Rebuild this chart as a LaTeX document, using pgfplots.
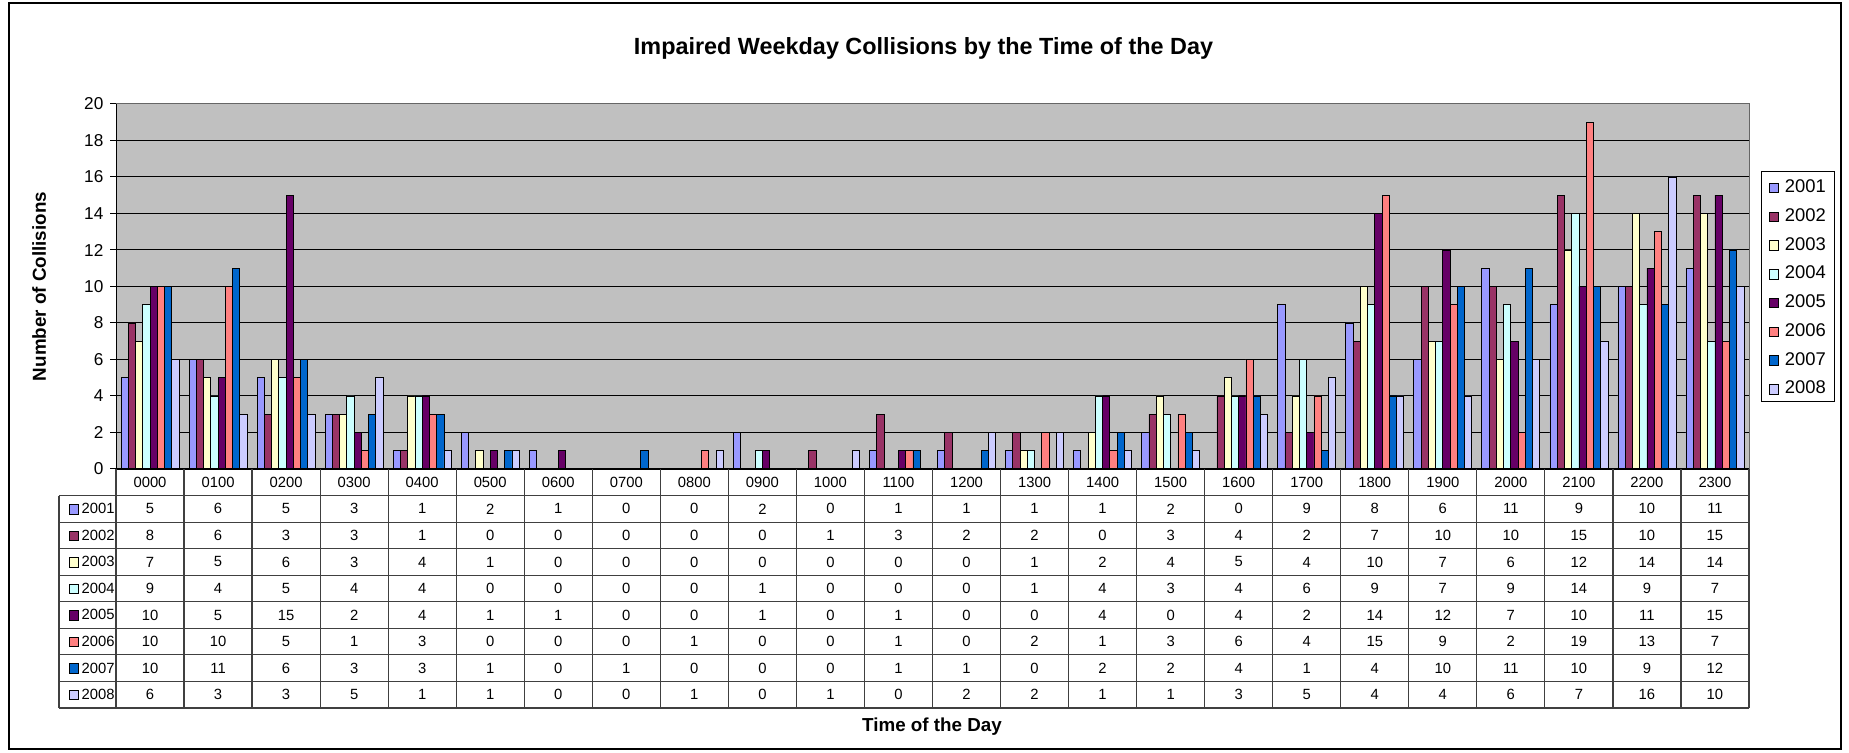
\documentclass[border=0pt]{standalone}
\usepackage{fontspec}
\setmainfont{Liberation Sans}
\usepackage{pgfplots}
\usepackage{pgfplotstable}
\pgfplotsset{compat=1.18}

\definecolor{cA}{HTML}{9999FF}
\definecolor{cB}{HTML}{993366}
\definecolor{cC}{HTML}{FFFFCC}
\definecolor{cD}{HTML}{CCFFFF}
\definecolor{cE}{HTML}{660066}
\definecolor{cF}{HTML}{FF8080}
\definecolor{cG}{HTML}{0066CC}
\definecolor{cH}{HTML}{CCCCFF}
\definecolor{plotgrey}{HTML}{C0C0C0}

\newcommand{\tabfont}{\fontsize{7.4}{9}\selectfont}
\newcommand{\keybox}[1]{{\setlength{\fboxsep}{0pt}\setlength{\fboxrule}{0.4pt}%
  \raisebox{0.1pt}{\fcolorbox{black}{#1}{\rule{0pt}{4.3pt}\rule{4.3pt}{0pt}}}}}

% hour of day, one column per year
\pgfplotstableread{
hour y2001 y2002 y2003 y2004 y2005 y2006 y2007 y2008
0000 5 8 7 9 10 10 10 6
0100 6 6 5 4 5 10 11 3
0200 5 3 6 5 15 5 6 3
0300 3 3 3 4 2 1 3 5
0400 1 1 4 4 4 3 3 1
0500 2 0 1 0 1 0 1 1
0600 1 0 0 0 1 0 0 0
0700 0 0 0 0 0 0 1 0
0800 0 0 0 0 0 1 0 1
0900 2 0 0 1 1 0 0 0
1000 0 1 0 0 0 0 0 1
1100 1 3 0 0 1 1 1 0
1200 1 2 0 0 0 0 1 2
1300 1 2 1 1 0 2 0 2
1400 1 0 2 4 4 1 2 1
1500 2 3 4 3 0 3 2 1
1600 0 4 5 4 4 6 4 3
1700 9 2 4 6 2 4 1 5
1800 8 7 10 9 14 15 4 4
1900 6 10 7 7 12 9 10 4
2000 11 10 6 9 7 2 11 6
2100 9 15 12 14 10 19 10 7
2200 10 10 14 9 11 13 9 16
2300 11 15 14 7 15 7 12 10
}\hours

\pgfplotsset{
  bars/.style={fill=#1, draw=black, line width=0.4pt},
  cells/.style={draw=none, mark=none, nodes near coords, point meta=explicit symbolic,
    nodes near coords style={anchor=center, font=\tabfont, inner sep=0pt}},
}

\begin{document}
\begin{tikzpicture}
\path (0pt,0pt) rectangle (924.5pt,-376.5pt);
\draw[line width=0.6pt] (4.5pt,-1.5pt) rectangle (920.5pt,-374.5pt);
\node[anchor=base, font=\fontsize{11.7}{14}\selectfont\bfseries] at (461.75pt,-27.5pt)
  {Impaired Weekday Collisions by the Time of the Day};

\begin{axis}[
    at={(58pt,-234.5pt)}, anchor=south west, scale only axis,
    width=816.5pt, height=182.5pt,
    ybar=0pt, bar width=3.625pt,
    xmin=-0.5, xmax=23.5, ymin=0, ymax=20,
    xtick=\empty, ytick={0,2,...,20}, ytick pos=left,
    tick align=outside, major tick length=2.8pt, tick style={black, line width=0.5pt},
    axis background/.style={fill=plotgrey},
    axis line style={draw=gray!80!black, line width=0.5pt},
    ymajorgrids, grid style={black, line width=0.5pt},
    /pgf/number format/assume math mode=true,
    yticklabel style={font=\fontsize{8.6}{10}\selectfont},
    ylabel={Number of Collisions},
    ylabel style={at={(axis description cs:-0.047,0.5)}, anchor=center,
      font=\fontsize{9.4}{11}\selectfont\bfseries},
  ]
  \addplot[bars=cA] table[x expr=\coordindex, y=y2001] \hours;
  \addplot[bars=cB] table[x expr=\coordindex, y=y2002] \hours;
  \addplot[bars=cC] table[x expr=\coordindex, y=y2003] \hours;
  \addplot[bars=cD] table[x expr=\coordindex, y=y2004] \hours;
  \addplot[bars=cE] table[x expr=\coordindex, y=y2005] \hours;
  \addplot[bars=cF] table[x expr=\coordindex, y=y2006] \hours;
  \addplot[bars=cG] table[x expr=\coordindex, y=y2007] \hours;
  \addplot[bars=cH] table[x expr=\coordindex, y=y2008] \hours;
  \draw[black, line width=0.6pt] (rel axis cs:0,0) -- (rel axis cs:0,1);
\end{axis}

% legend box at the right
\draw[black, line width=0.5pt, fill=white] (880.5pt,-86pt) rectangle (917pt,-201pt);
\foreach \c/\yr [count=\i from 0] in {cA/2001,cB/2002,cC/2003,cD/2004,cE/2005,cF/2006,cG/2007,cH/2008}
  \node[anchor=west, inner sep=0pt, font=\fontsize{9.2}{11}\selectfont]
    at (884.3pt,{-93.2pt-14.375pt*\i}) {\keybox{\c}\hspace{2.8pt}\yr};

% data table under the plot
\begin{axis}[
    at={(29.49pt,-354pt)}, anchor=south west, scale only axis,
    width=845pt, height=119.5pt,
    xmin=-1.338, xmax=23.5, ymin=0, ymax=9,
    hide axis, clip=false,
  ]
  \pgfplotsinvokeforeach{0,1,...,8}{
    \draw[black!75, line width=0.6pt] (axis cs:-1.338,#1) -- (axis cs:23.5,#1);}
  \draw[black, line width=0.7pt] (axis cs:-0.5,9) -- (axis cs:23.5,9);
  \pgfplotsinvokeforeach{-0.5,0.5,...,23.5}{
    \draw[black!75, line width=0.6pt] (axis cs:#1,0) -- (axis cs:#1,9);}
  \draw[black!75, line width=0.6pt] (axis cs:-1.338,0) -- (axis cs:-1.338,8);
  \addplot[cells] table[x expr=\coordindex, y expr=8.5, meta=hour] \hours;
  \addplot[cells] table[x expr=\coordindex, y expr=7.5, meta=y2001] \hours;
  \addplot[cells] table[x expr=\coordindex, y expr=6.5, meta=y2002] \hours;
  \addplot[cells] table[x expr=\coordindex, y expr=5.5, meta=y2003] \hours;
  \addplot[cells] table[x expr=\coordindex, y expr=4.5, meta=y2004] \hours;
  \addplot[cells] table[x expr=\coordindex, y expr=3.5, meta=y2005] \hours;
  \addplot[cells] table[x expr=\coordindex, y expr=2.5, meta=y2006] \hours;
  \addplot[cells] table[x expr=\coordindex, y expr=1.5, meta=y2007] \hours;
  \addplot[cells] table[x expr=\coordindex, y expr=0.5, meta=y2008] \hours;
  \node[anchor=west, font=\tabfont, xshift=1.5pt] at (axis cs:-1.338,7.5) {\keybox{cA}\,2001};
  \node[anchor=west, font=\tabfont, xshift=1.5pt] at (axis cs:-1.338,6.5) {\keybox{cB}\,2002};
  \node[anchor=west, font=\tabfont, xshift=1.5pt] at (axis cs:-1.338,5.5) {\keybox{cC}\,2003};
  \node[anchor=west, font=\tabfont, xshift=1.5pt] at (axis cs:-1.338,4.5) {\keybox{cD}\,2004};
  \node[anchor=west, font=\tabfont, xshift=1.5pt] at (axis cs:-1.338,3.5) {\keybox{cE}\,2005};
  \node[anchor=west, font=\tabfont, xshift=1.5pt] at (axis cs:-1.338,2.5) {\keybox{cF}\,2006};
  \node[anchor=west, font=\tabfont, xshift=1.5pt] at (axis cs:-1.338,1.5) {\keybox{cG}\,2007};
  \node[anchor=west, font=\tabfont, xshift=1.5pt] at (axis cs:-1.338,0.5) {\keybox{cH}\,2008};
\end{axis}

\node[anchor=base, font=\fontsize{9.4}{11}\selectfont\bfseries] at (466pt,-366pt) {Time of the Day};
\end{tikzpicture}
\end{document}
